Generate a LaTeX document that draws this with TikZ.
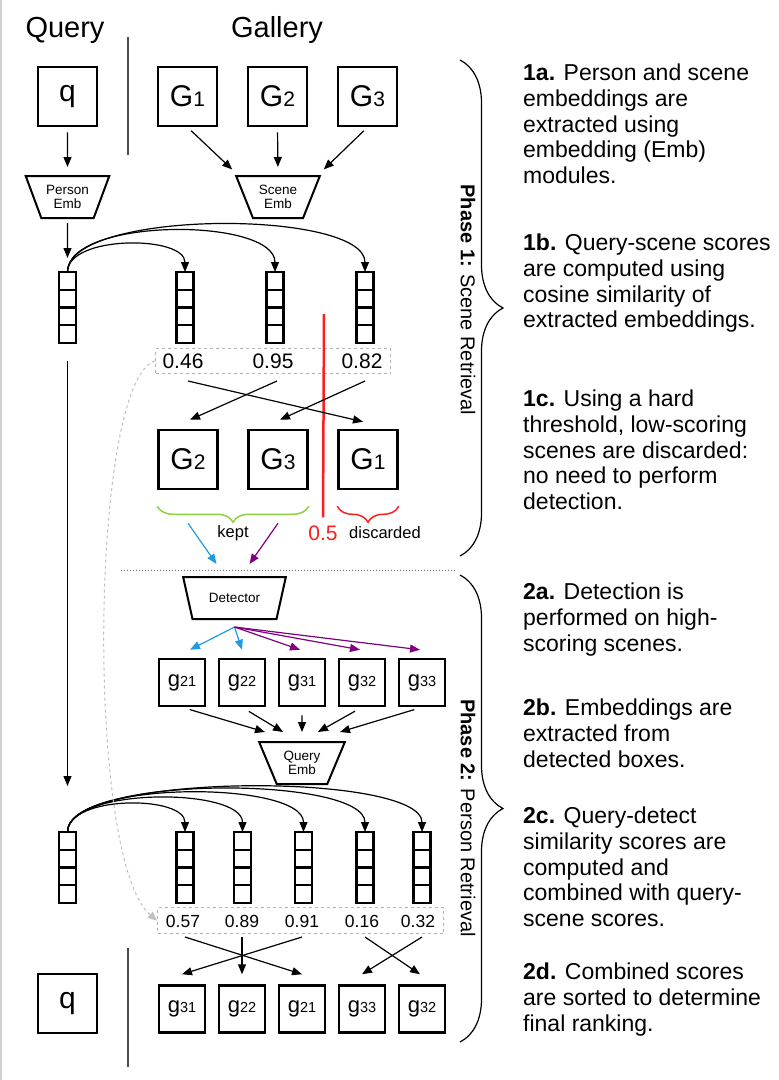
\documentclass[tikz,border=0pt]{standalone}
\usepackage{fontspec}
\setmainfont{Liberation Sans}
\usetikzlibrary{arrows.meta,shapes.geometric,decorations.pathreplacing,calc}

\definecolor{keptgreen}{RGB}{140,210,60}
\definecolor{cutred}{RGB}{255,30,30}
\definecolor{detblue}{RGB}{30,155,230}
\definecolor{detpurple}{RGB}{128,0,128}

\newcommand{\scenesub}[1]{{\fontsize{21}{21}\selectfont #1}}
\newcommand{\cropsub}[1]{{\fontsize{14.5}{14.5}\selectfont #1}}

\begin{document}
\begin{tikzpicture}[x=1pt, y=-1pt,
	every node/.style={inner sep=0pt},
	img/.style={draw, line width=2.5pt, minimum width=59pt, minimum height=59pt, font=\fontsize{30}{30}\selectfont},
	crop/.style={draw, line width=2.5pt, minimum width=46pt, minimum height=47pt, font=\fontsize{22}{22}\selectfont},
	emb/.style={draw, line width=2pt, trapezium, shape border rotate=180, trapezium stretches=true,
		trapezium angle=62, minimum width=84pt, minimum height=42pt, align=center, font=\fontsize{13.5}{14.5}\selectfont},
	vec/.style={draw, line width=2.4pt, outer sep=0pt, minimum width=17pt, minimum height=71pt},
	arr/.style={line width=1.2pt, -{Triangle[length=10pt,width=8pt]}},
	scorebox/.style={draw=gray!60, dashed, line width=1pt},
	score/.style={font=\fontsize{21}{21}\selectfont},
	small/.style={font=\fontsize{17.5}{17.5}\selectfont},
	para/.style={anchor=north west, align=left, font=\fontsize{23}{25.7}\selectfont},
	phase/.style={rotate=-90, font=\fontsize{20}{20}\selectfont},
	bigbrace/.style={decorate, decoration={brace, amplitude=43pt}, line width=1.2pt},
	divider/.style={draw=black!70, line width=1.5pt}]
	
	\useasboundingbox (0,0) rectangle (779,1080);
	\draw[gray!35, line width=2pt] (1,0) -- (1,1080);
	
	% \drawvec#name#x#y
	\def\drawvec#1#2#3{
		\node[vec] (#1) at (#2,#3) {};
		\foreach \k in {1,2,3}
			\draw[line width=2.4pt] ($(#1.north west)!\k/4!(#1.south west)$) -- ($(#1.north east)!\k/4!(#1.south east)$);
	}
	
	% heads
	\node[font=\fontsize{29}{29}\selectfont] (qhead) at (65,30) {Query};
	\node[font=\fontsize{29}{29}\selectfont] (ghead) at (277,30) {Gallery};
	\coordinate (divA) at (128,37);
	\coordinate (divB) at (128,155);
	\draw[divider] (divA) -- (divB);
	
	% query and gallery scenes
	\node[img] (q) at (67.5,96.5) {q};
	\node[img] (G1) at (187.5,96.5) {G\scenesub{1}};
	\node[img] (G2) at (277.5,96.5) {G\scenesub{2}};
	\node[img] (G3) at (367.5,96.5) {G\scenesub{3}};
	
	\node[emb] (pEmb) at (67.5,197) {Person\\Emb};
	\node[emb] (sEmb) at (278,197) {Scene\\Emb};
	
	\draw[arr, shorten <=5pt, shorten >=8pt] (q.south) -- (pEmb.north);
	\draw[arr, shorten <=5pt, shorten >=8pt] (G1.south) -- ([xshift=-40pt]sEmb.north);
	\draw[arr, shorten <=5pt, shorten >=8pt] (G2.south) -- (sEmb.north);
	\draw[arr, shorten <=5pt, shorten >=8pt] (G3.south) -- ([xshift=40pt]sEmb.north);
	
	% scene embeddings
	\drawvec{qv}{67.5}{307.5}
	\drawvec{sv1}{185}{307.5}
	\drawvec{sv2}{275}{307.5}
	\drawvec{sv3}{365}{307.5}
	
	\draw[arr, shorten <=4pt, shorten >=14pt] (pEmb.south) -- (qv.north);
	\foreach \v/\h in {sv1/37, sv2/55, sv3/63}
		\draw[arr] (qv.north) .. controls +(0,-\h) and +(0,-\h) .. (\v.north);
	
	\node[scorebox, minimum width=235pt, minimum height=25pt] (sb1) at (273,361) {};
	\node[score] (sc1) at (183,361) {0.46};
	\node[score] (sc2) at (273,361) {0.95};
	\node[score] (sc3) at (362,361) {0.82};
	
	% threshold
	\coordinate (thrtop) at (324,314);
	\node[score, text=cutred] (thr) at (323,533) {0.5};
	\draw[cutred, line width=2.5pt, shorten >=8pt] (thrtop) -- (thr.north);
	
	% sorted scenes
	\node[img] (G2b) at (188,459.5) {G\scenesub{2}};
	\node[img] (G3b) at (278,459.5) {G\scenesub{3}};
	\node[img] (G1b) at (368,459.5) {G\scenesub{1}};
	
	\draw[arr] ([xshift=5pt,yshift=-20pt]sc1.center) -- ([xshift=-5pt,yshift=7pt]G1b.north);
	\draw[arr] ([xshift=4pt,yshift=-20pt]sc2.center) -- ([xshift=2pt,yshift=9pt]G2b.north);
	\draw[arr] ([xshift=3pt,yshift=-20pt]sc3.center) -- ([xshift=2pt,yshift=9pt]G3b.north);
	
	\draw[keptgreen, line width=1.5pt, decorate, decoration={brace, amplitude=16pt}]
		([yshift=-16pt]G3b.south east) -- ([yshift=-16pt]G2b.south west);
	\draw[cutred, line width=1.5pt, decorate, decoration={brace, amplitude=16pt}]
		([yshift=-16pt]G1b.south east) -- ([yshift=-16pt]G1b.south west);
	\node[font=\fontsize{16.5}{16.5}\selectfont] (kept) at (233,533) {kept};
	\node[font=\fontsize{16.5}{16.5}\selectfont] (disc) at (385,533) {discarded};
	
	% phase separator
	\coordinate (sepL) at (121,570);
	\coordinate (sepR) at (455,570);
	\draw[black!60, dotted, line width=1pt] (sepL) -- (sepR);
	
	% detection
	\node[emb, minimum width=103pt, trapezium angle=59] (det) at (234.5,598) {Detector};
	\draw[arr, detblue] ([yshift=-33pt]G2b.south) -- ([xshift=-18pt,yshift=12pt]det.north);
	\draw[arr, detpurple] ([yshift=-33pt]G3b.south) -- ([xshift=15pt,yshift=12pt]det.north);
	
	\foreach \n/\x in {21/182, 22/242, 31/302, 32/362, 33/422}
		\node[crop] (g\n) at (\x,682.5) {g\cropsub{\n}};
	
	\coordinate (detout) at ([yshift=-7pt]det.south);
	\draw[arr, detblue] (detout) -- ([xshift=8pt,yshift=8pt]g21.north);
	\draw[arr, detblue] (detout) -- ([yshift=8pt]g22.north);
	\foreach \n in {31,32,33}
		\draw[arr, detpurple] (detout) -- ([xshift=-2pt,yshift=8pt]g\n.north);
	
	\node[emb, minimum width=86pt] (qEmb) at (302,763) {Query\\Emb};
	\foreach \n/\dx in {21/-37, 22/-19, 31/0, 32/16, 33/38}
		\draw[arr, shorten <=8pt] (g\n.south) -- ([xshift=\dx pt,yshift=9pt]qEmb.north);
	
	% person embeddings
	\drawvec{qv2}{67.5}{867.5}
	\drawvec{cv1}{185}{867.5}
	\drawvec{cv2}{242.5}{867.5}
	\drawvec{cv3}{303.5}{867.5}
	\drawvec{cv4}{365}{867.5}
	\drawvec{cv5}{422}{867.5}
	
	\draw[arr] ([yshift=-18pt]qv.south) -- ([yshift=46pt]qv2.north);
	\foreach \v/\h in {cv1/37, cv2/45, cv3/52, cv4/57, cv5/60}
		\draw[arr] (qv2.north) .. controls +(0,-\h) and +(0,-\h) .. (\v.north);
	
	\node[scorebox, minimum width=286pt, minimum height=26pt] (sb2) at (300.5,920.5) {};
	\foreach \i/\x/\s in {1/183/0.57, 2/242/0.89, 3/302/0.91, 4/362/0.16, 5/418/0.32}
		\node[small] (t\i) at (\x,921) {\s};
	
	\draw[gray!50, dashed, line width=1pt, -{Triangle[length=9pt,width=8pt]}]
		(sb1.west) .. controls (90,380) and (85,860) .. (sb2.west);
	
	% final ranking
	\node[img] (q2) at (67.5,1003.5) {q};
	\coordinate (divC) at (128,948);
	\coordinate (divD) at (128,1067);
	\draw[divider] (divC) -- (divD);
	
	\foreach \i/\x/\n in {1/182/31, 2/242/22, 3/302/21, 4/362/33, 5/422/32}
		\node[crop] (f\i) at (\x,1009) {g\cropsub{\n}};
	
	\draw[arr] ([xshift=2pt,yshift=-16pt]t1.center) -- ([yshift=10pt]f3.north);
	\draw[arr] ([yshift=-16pt]t2.center) -- ([yshift=10pt]f2.north);
	\draw[arr] ([yshift=-16pt]t3.center) -- ([yshift=10pt]f1.north);
	\draw[arr] ([xshift=3pt,yshift=-16pt]t4.center) -- ([xshift=-2pt,yshift=10pt]f5.north);
	\draw[arr] ([xshift=4pt,yshift=-16pt]t5.center) -- ([yshift=10pt]f4.north);
	
	% phases
	\coordinate (ph1top) at (460,60);
	\coordinate (ph1bot) at (460,556);
	\draw[bigbrace] (ph1top) -- (ph1bot);
	\node[phase] (ph1) at (468,300) {\textbf{Phase 1:} Scene Retrieval};
	
	\coordinate (ph2top) at (460,575);
	\coordinate (ph2bot) at (460,1042);
	\draw[bigbrace] (ph2top) -- (ph2bot);
	\node[phase] (ph2) at (468,818) {\textbf{Phase 2:} Person Retrieval};
	
	% steps
	\node[para] (s1a) at (523,64) {\textbf{1a.} Person and scene\\embeddings are\\extracted using\\embedding (Emb)\\modules.};
	\node[para] (s1b) at (523,234) {\textbf{1b.} Query-scene scores\\are computed using\\cosine similarity of\\extracted embeddings.};
	\node[para] (s1c) at (523,390) {\textbf{1c.} Using a hard\\threshold, low-scoring\\scenes are discarded:\\no need to perform\\detection.};
	\node[para] (s2a) at (523,583) {\textbf{2a.} Detection is\\performed on high-\\scoring scenes.};
	\node[para] (s2b) at (523,699) {\textbf{2b.} Embeddings are\\extracted from\\detected boxes.};
	\node[para] (s2c) at (523,807) {\textbf{2c.} Query-detect\\similarity scores are\\computed and\\combined with query-\\scene scores.};
	\node[para] (s2d) at (523,963) {\textbf{2d.} Combined scores\\are sorted to determine\\final ranking.};
\end{tikzpicture}
\end{document}
